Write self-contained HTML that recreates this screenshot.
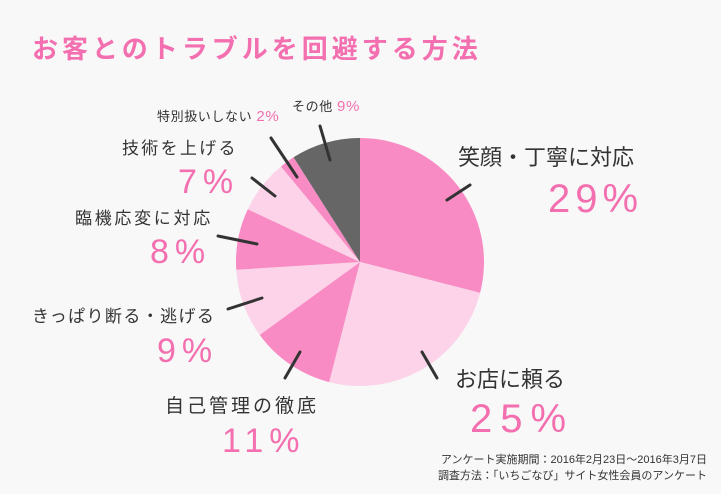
<!DOCTYPE html>
<html><head><meta charset="utf-8"><style>
html,body{margin:0;padding:0;background:#f8f8f8;}
svg{display:block;font-family:"Liberation Sans","Noto Sans CJK JP",sans-serif;}
.d{fill:#333;}
.p{fill:#f36fb0;}
.n{letter-spacing:5px;}
</style></head><body>
<svg id="s" width="721" height="494" viewBox="0 0 721 494">
<rect width="721" height="494" fill="#f8f8f8"/>
<g id="pie"></g>
<g stroke="#333" stroke-width="3" stroke-linecap="round">
<line x1="447" y1="200" x2="470" y2="185"/>
<line x1="422" y1="352" x2="437" y2="378"/>
<line x1="300" y1="352" x2="285" y2="378"/>
<line x1="262" y1="298" x2="228" y2="309"/>
<line x1="257" y1="244" x2="218" y2="236"/>
<line x1="275" y1="196" x2="252" y2="178"/>
<line x1="297" y1="177" x2="271" y2="138"/>
<line x1="330" y1="160" x2="320" y2="126"/>
</g>
<text x="32" y="58" font-size="26" class="p" font-weight="bold" letter-spacing="4">お客とのトラブルを回避する方法</text>
<text x="458" y="165" font-size="22" class="d">笑顔・丁寧に対応</text>
<text x="548" y="212" font-size="40" class="p n">29%</text>
<text x="455" y="387" font-size="22" class="d">お店に頼る</text>
<text x="470" y="432" font-size="40" class="p" letter-spacing="8">25%</text>
<text x="165" y="412" font-size="19" class="d" letter-spacing="3">自己管理の徹底</text>
<text x="222" y="452" font-size="34" class="p" letter-spacing="6">11%</text>
<text x="32" y="322" font-size="17" class="d" letter-spacing="1.4">きっぱり断る・逃げる</text>
<text x="157" y="362" font-size="34" class="p" letter-spacing="6">9%</text>
<text x="75" y="224" font-size="17" class="d" letter-spacing="2.7">臨機応変に対応</text>
<text x="150" y="263" font-size="34" class="p" letter-spacing="6">8%</text>
<text x="122" y="154" font-size="17" class="d" letter-spacing="2.3">技術を上げる</text>
<text x="178" y="193" font-size="34" class="p" letter-spacing="6">7%</text>
<text x="157" y="121" font-size="13" class="d" letter-spacing="0.6">特別扱いしない <tspan class="p" font-size="15">2%</tspan></text>
<text x="292" y="111" font-size="13" class="d" letter-spacing="0.6">その他 <tspan class="p" font-size="15">9%</tspan></text>
<text x="707" y="463" font-size="11" class="d" text-anchor="end">アンケート実施期間：2016年2月23日～2016年3月7日</text>
<text x="707" y="479" font-size="11" class="d" text-anchor="end">調査方法：「いちごなび」サイト女性会員のアンケート</text>
</svg>
<script>
var cx=360,cy=262,r=124,v=[29,25,11,9,8,7,2,9],c=["#f98bc4","#fcd3e9","#f98bc4","#fcd3e9","#f98bc4","#fcd3e9","#f98bc4","#666666"],a=0,h="";
for(var i=0;i<v.length;i++){var a0=a/100*2*Math.PI;a+=v[i];var a1=a/100*2*Math.PI;
var x0=cx+r*Math.sin(a0),y0=cy-r*Math.cos(a0),x1=cx+r*Math.sin(a1),y1=cy-r*Math.cos(a1);
h+='<path d="M'+cx+','+cy+'L'+x0+','+y0+'A'+r+','+r+' 0 '+(v[i]>50?1:0)+',1 '+x1+','+y1+'Z" fill="'+c[i]+'"/>';}
document.getElementById("pie").innerHTML=h;
</script>
</body></html>
